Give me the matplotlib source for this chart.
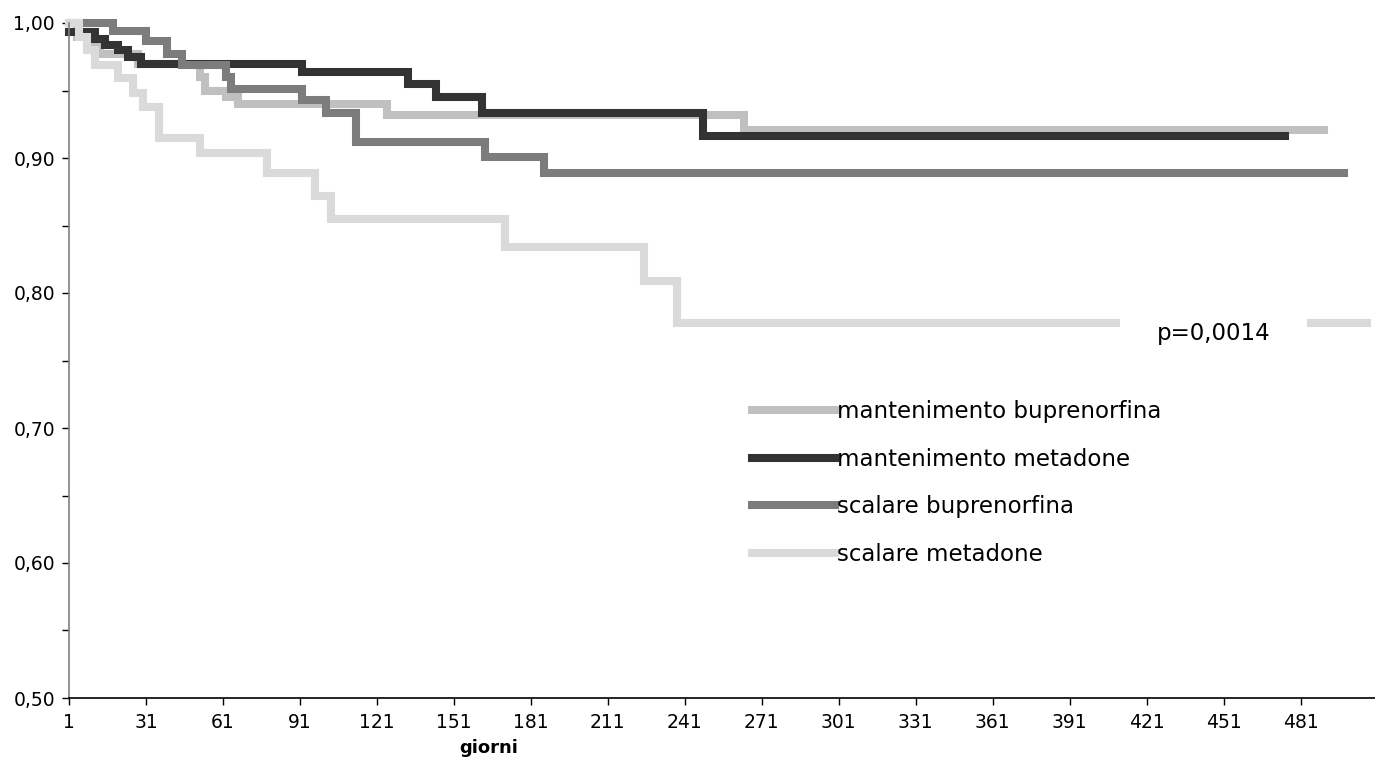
import matplotlib.pyplot as plt
from matplotlib.ticker import FixedLocator, FuncFormatter

# giorni / sopravvivenza (curve a gradini)
mb_days = [1, 4, 9, 13, 28, 52, 54, 62, 67, 125, 264, 490]
mb_surv = [1.0, 0.990, 0.984, 0.977, 0.970, 0.960, 0.950, 0.945, 0.940, 0.932, 0.921, 0.921]

mm_days = [1, 11, 15, 20, 24, 29, 92, 133, 144, 162, 248, 475]
mm_surv = [0.993, 0.988, 0.984, 0.980, 0.975, 0.970, 0.964, 0.955, 0.945, 0.933, 0.916, 0.916]

sb_days = [1, 18, 31, 39, 45, 62, 64, 92, 101, 113, 163, 186, 498]
sb_surv = [1.0, 0.994, 0.987, 0.977, 0.969, 0.960, 0.951, 0.943, 0.933, 0.912, 0.901, 0.889, 0.889]

sm_days = [1, 5, 8, 11, 20, 26, 30, 36, 52, 78, 97, 103, 171, 225, 238, 507]
sm_surv = [1.0, 0.990, 0.980, 0.969, 0.959, 0.948, 0.938, 0.915, 0.904, 0.889, 0.872, 0.855,
           0.834, 0.809, 0.778, 0.778]

labels = ['mantenimento buprenorfina', 'mantenimento metadone',
          'scalare buprenorfina', 'scalare metadone']
colors = ['#c0c0c0', '#333333', '#7c7c7c', '#dadada']

x_ticks = [1, 31, 61, 91, 121, 151, 181, 211, 241, 271, 301, 331, 361, 391, 421, 451, 481]
y_major = [0.5, 0.6, 0.7, 0.8, 0.9, 1.0]
y_minor = [0.55, 0.65, 0.75, 0.85, 0.95]

W, H = 1375, 781
fig = plt.figure(figsize=(W / 100, H / 100), dpi=100)
ax = fig.add_axes([69 / W, 1 - 698 / H, (W - 69) / W, (698 - 23) / H])

series = [(mb_days, mb_surv), (mm_days, mm_surv), (sb_days, sb_surv), (sm_days, sm_surv)]
for (d, s), lab, col in zip(series, labels, colors):
    ax.step(d, s, where='post', color=col, lw=5.8, label=lab, clip_on=False,
            solid_joinstyle='miter')

ax.set_xlim(1, 510)
ax.set_ylim(0.5, 1.0)

ax.xaxis.set_major_locator(FixedLocator(x_ticks))
ax.yaxis.set_major_locator(FixedLocator(y_major))
ax.yaxis.set_minor_locator(FixedLocator(y_minor))
ax.yaxis.set_major_formatter(FuncFormatter(lambda v, p: ('%.2f' % v).replace('.', ',')))

ax.tick_params(axis='both', which='both', direction='out', length=5, width=1,
               labelsize=13.5, color='black')
ax.tick_params(axis='x', pad=6)
ax.tick_params(axis='y', pad=5)

for side in ['top', 'right']:
    ax.spines[side].set_visible(False)
ax.spines['left'].set_color('#808080')
ax.spines['left'].set_linewidth(1.2)
ax.spines['bottom'].set_color('black')
ax.spines['bottom'].set_linewidth(1.2)

fig.text(489 / W, 1 - 748 / H, 'giorni', ha='center', va='center',
         fontsize=13, fontweight='bold')

ax.text(1157 / W, 1 - 333 / H, 'p=0,0014', transform=fig.transFigure,
        ha='left', va='center', fontsize=16.5, zorder=10,
        bbox=dict(boxstyle='square,pad=1.6', facecolor='white', edgecolor='none'))

leg = ax.legend(loc='upper left', bbox_to_anchor=(752 / W, 1 - 400 / H),
                bbox_transform=fig.transFigure, frameon=False, fontsize=16.5,
                handlelength=3.6, handletextpad=0.1, labelspacing=1.07,
                borderpad=0, borderaxespad=0)

fig.savefig('out.png', dpi=100)
